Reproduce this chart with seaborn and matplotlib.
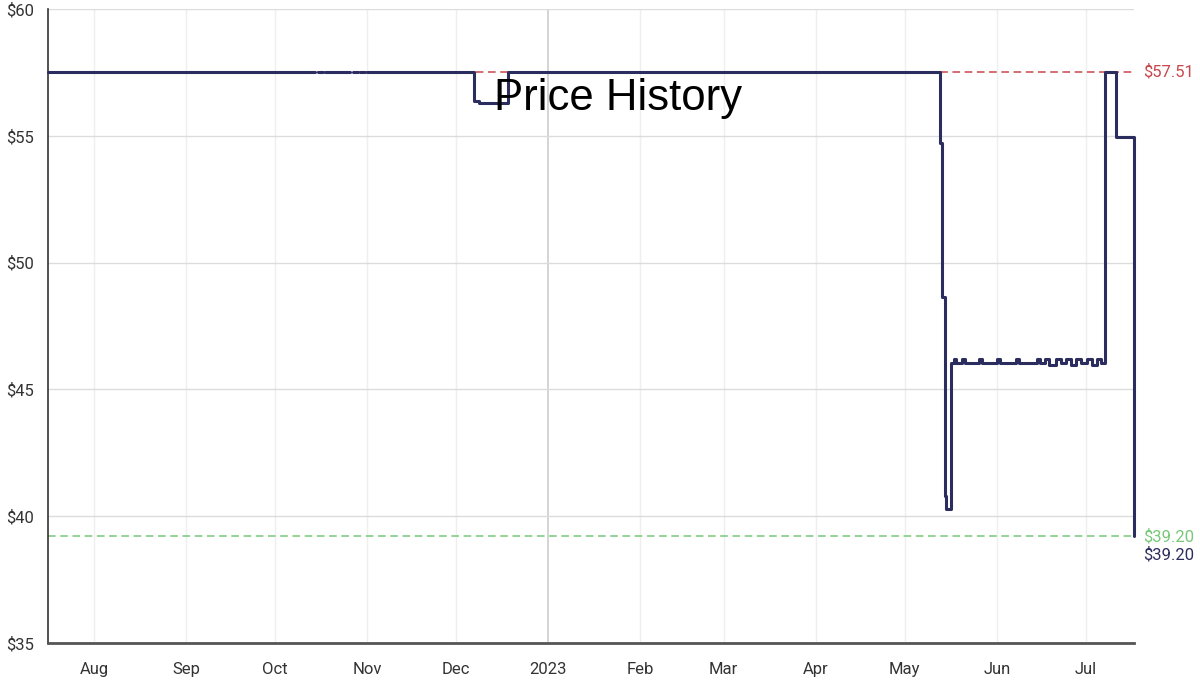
import numpy as np
import pandas as pd
import seaborn as sns
import matplotlib.pyplot as plt
import matplotlib.dates as mdates
import matplotlib.transforms as mtransforms

# price change points (step data)
change_dates = [
    '2022-07-16 12:00', '2022-12-07 00:00', '2022-12-08 18:00', '2022-12-18 08:00',
    '2023-05-12 22:00', '2023-05-13 14:00', '2023-05-14 10:00', '2023-05-14 22:00',
    '2023-05-16 14:00',
    '2023-05-17 14:00', '2023-05-18 07:00', '2023-05-20 07:00', '2023-05-21 07:00',
    '2023-05-26 00:00', '2023-05-27 00:00', '2023-06-01 03:00', '2023-06-02 03:00',
    '2023-06-07 12:00', '2023-06-08 12:00', '2023-06-14 12:00', '2023-06-15 12:00',
    '2023-06-17 05:00', '2023-06-18 14:00', '2023-06-20 22:00', '2023-06-22 14:00',
    '2023-06-24 07:00', '2023-06-26 00:00', '2023-06-27 14:00', '2023-06-29 07:00',
    '2023-07-01 07:00', '2023-07-03 00:00', '2023-07-04 17:00', '2023-07-06 00:00',
    '2023-07-07 10:00', '2023-07-11 03:00', '2023-07-17 03:00',
]
prices = [
    57.51, 56.37, 56.30, 57.51,
    54.72, 48.64, 40.80, 40.30,
    46.05,
    46.20, 46.05, 46.20, 46.05,
    46.20, 46.05, 46.20, 46.05,
    46.20, 46.05, 46.20, 46.05,
    46.20, 45.97, 46.20, 46.05,
    46.20, 45.97, 46.20, 46.05,
    46.20, 45.97, 46.20, 46.05,
    57.51, 54.96, 39.20,
]
# stretches with no data
gap_starts = ['2022-10-14 07:00', '2022-10-17 00:00', '2022-10-26 02:00', '2022-10-28 19:00', '2022-10-31 05:00']
gap_ends = ['2022-10-15 07:00', '2022-10-17 17:00', '2022-10-27 02:00', '2022-10-29 12:00', '2022-10-31 22:00']

highest = 57.51
lowest = 39.20
current = 39.20
x_start = '2022-07-16 12:00'
x_end = '2023-07-17 05:00'

chg_t = pd.to_datetime(change_dates)
chg_p = np.array(prices)

def price_at(t):
    i = np.searchsorted(chg_t.values, np.datetime64(t), side='right') - 1
    return chg_p[max(i, 0)]

# split into continuous segments around the gaps
bounds = [pd.Timestamp(change_dates[0])]
for s, e in zip(gap_starts, gap_ends):
    bounds += [pd.Timestamp(s), pd.Timestamp(e)]
bounds.append(chg_t[-1])
rows = []
for k in range(0, len(bounds), 2):
    a, b = bounds[k], bounds[k + 1]
    rows.append((a, price_at(a), k))
    for t, p in zip(chg_t, chg_p):
        if a < t < b:
            rows.append((t, p, k))
    last_p = chg_p[-1] if b == chg_t[-1] else price_at(b)
    rows.append((b, last_p, k))
df = pd.DataFrame(rows, columns=['date', 'price', 'seg'])

sns.set_style('white')
plt.rcParams['font.family'] = ['Roboto', 'DejaVu Sans']

navy = '#2c2d5f'
red = '#c8474b'
green = '#78c878'

fig = plt.figure(figsize=(12, 6.81), dpi=100)
ax = fig.add_axes([0.04, 0.0558, 0.905, 0.931])

ax.axhline(highest, color=red, lw=1.1, ls=(0, (5, 3)), zorder=2)
ax.axhline(lowest, color=green, lw=1.1, ls=(0, (5, 3)), zorder=2)

sns.lineplot(data=df, x='date', y='price', units='seg', estimator=None,
             drawstyle='steps-post', color=navy, lw=2.2, ax=ax, zorder=3,
             legend=False)
for ln in ax.lines[2:]:
    ln.set_clip_on(False)

ax.set_ylim(35, 60)
ax.set_xlim(pd.Timestamp(x_start), pd.Timestamp(x_end))
ax.set_yticks([35, 40, 45, 50, 55, 60])
ax.set_yticklabels(['$35', '$40', '$45', '$50', '$55', '$60'])
ax.xaxis.set_major_locator(mdates.MonthLocator())
ax.xaxis.set_major_formatter(
    plt.FuncFormatter(lambda v, _: mdates.num2date(v).strftime('%Y') if mdates.num2date(v).month == 1
                      else mdates.num2date(v).strftime('%b')))
ax.set_xlabel('')
ax.set_ylabel('')

ax.grid(axis='y', color='#dcdcdc', lw=1)
ax.grid(axis='x', color='#efefef', lw=1)
for gl, t in zip(ax.get_xgridlines(), ax.get_xticks()):
    if mdates.num2date(t).month == 1:
        gl.set_color('#d4d4d4')
        gl.set_linewidth(1.4)
ax.set_axisbelow(True)

for s in ['top', 'right']:
    ax.spines[s].set_visible(False)
ax.spines['left'].set_color('#333333')
ax.spines['left'].set_linewidth(1.2)
ax.spines['bottom'].set_color('#555555')
ax.spines['bottom'].set_linewidth(2)
ax.tick_params(axis='both', length=6, width=1, color='#333333', labelsize=12,
               labelcolor='#333333', pad=4)
ax.tick_params(axis='x', pad=8)

tr = mtransforms.blended_transform_factory(ax.transAxes, ax.transData)
ax.text(1.008, highest, f'${highest:.2f}', color=red, fontsize=12, va='center', transform=tr)
ax.text(1.008, lowest, f'${lowest:.2f}', color=green, fontsize=12, va='center', transform=tr)
ax.annotate(f'${current:.2f}', xy=(1.008, current), xycoords=tr, xytext=(0, -13),
            textcoords='offset points', color=navy, fontsize=12, va='center')

fig.text(0.515, 0.855, 'Price History', fontsize=31.5, color='black',
         ha='center', va='center', family=['Liberation Sans', 'DejaVu Sans'])

fig.savefig('out.png', dpi=100)
